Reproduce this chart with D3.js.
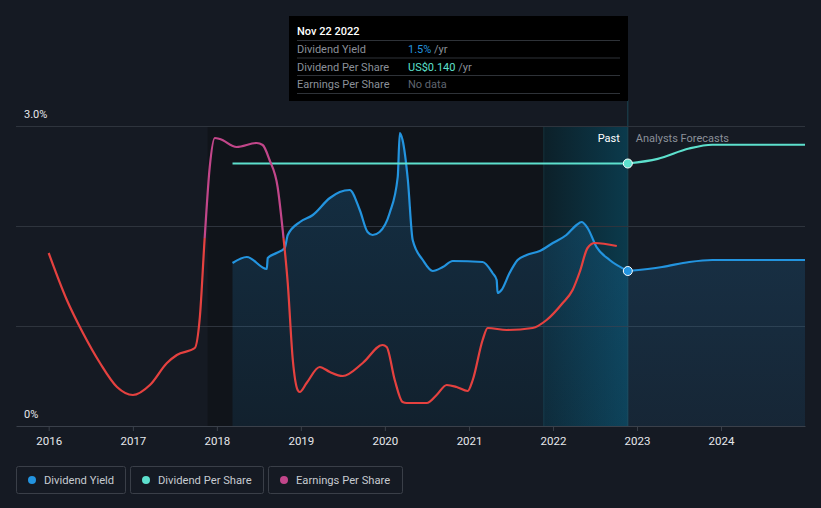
<!DOCTYPE html>
<html>
<head>
<meta charset="utf-8">
<script src="https://cdn.jsdelivr.net/npm/d3@7"></script>
<style>
  html, body { margin: 0; padding: 0; background: #151a23; }
  svg { display: block; font-family: Roboto, "Noto Sans", sans-serif; }
</style>
</head>
<body>
<svg id="chart" width="821" height="508"></svg>
<script>
// ---------------- DATA ----------------
const yieldDates = ["2018-03-10","2018-05-11","2018-08-06","2018-08-10","2018-09-17","2018-10-23","2018-11-05","2018-12-28",
  "2019-02-22","2019-05-07","2019-06-19","2019-08-01","2019-09-14","2019-10-18","2019-11-09","2019-12-09",
  "2020-01-22","2020-02-26","2020-03-06","2020-03-18","2020-04-10","2020-05-01","2020-06-14","2020-07-27","2020-09-09","2020-10-22",
  "2021-03-01","2021-04-13","2021-05-01","2021-05-05","2021-05-22","2021-06-26","2021-07-31","2021-09-08","2021-11-04","2021-12-31",
  "2022-02-28","2022-04-13","2022-05-05","2022-05-31","2022-07-09","2022-09-04","2022-11-22"];
const yieldValues = [1.63,1.69,1.57,1.68,1.73,1.78,1.91,2.04,
  2.11,2.28,2.34,2.36,2.16,1.94,1.91,1.94,
  2.13,2.49,2.93,2.86,2.46,1.86,1.66,1.55,1.59,1.65,
  1.64,1.53,1.46,1.33,1.36,1.53,1.66,1.71,1.75,1.83,
  1.91,2.01,2.04,1.98,1.79,1.66,1.55];
const yieldForecastDates = ["2022-11-22","2023-04-20","2023-08-16","2023-11-24","2024-12-31"];
const yieldForecastValues = [1.55,1.59,1.64,1.66,1.66];

const dpsDates = ["2018-03-10","2022-11-22"];
const dpsValues = [0.14,0.14];
const dpsForecastDates = ["2022-11-22","2023-04-01","2023-08-15","2023-11-24","2024-12-31"];
const dpsForecastValues = [0.14,0.1425,0.148,0.15,0.15];

const epsDates = ["2016-01-01","2016-03-20","2016-05-29","2016-08-11","2016-10-24","2017-01-01","2017-03-16","2017-05-29","2017-07-11","2017-09-27",
  "2017-10-19","2017-11-09","2017-12-01","2017-12-23","2018-01-14","2018-03-28","2018-06-23","2018-07-19","2018-08-18","2018-09-22",
  "2018-10-14","2018-11-05","2018-11-27","2018-12-18","2018-12-27","2019-01-26","2019-03-24","2019-05-07","2019-07-02","2019-09-27",
  "2019-12-22","2020-01-09","2020-02-13","2020-03-18","2020-04-05","2020-07-01","2020-08-13","2020-09-26","2020-11-08","2020-12-26",
  "2021-01-17","2021-03-01","2021-03-23","2021-06-14","2021-10-04","2021-12-04","2022-02-12","2022-03-27","2022-04-27","2022-05-31",
  "2022-07-01","2022-10-05"];
const epsValues = [0.692,0.504,0.372,0.252,0.156,0.124,0.164,0.252,0.284,0.312,
  0.436,0.752,1.036,1.152,1.148,1.116,1.132,1.124,1.064,0.956,
  0.784,0.572,0.264,0.144,0.136,0.172,0.236,0.216,0.200,0.252,
  0.324,0.316,0.184,0.096,0.092,0.092,0.124,0.164,0.156,0.140,
  0.184,0.344,0.392,0.384,0.392,0.424,0.492,0.544,0.616,0.712,
  0.732,0.720];

const xTickYears = [2016,2017,2018,2019,2020,2021,2022,2023,2024];
const yTickLabels = ["0%","3.0%"];
const yTickValues = [0, 3.0];
const gridValues = [1.0, 2.0, 3.0];
const legendLabels = ["Dividend Yield","Dividend Per Share","Earnings Per Share"];
const legendColors = ["#2394df","#5de0cd","#c2468a"];
const tooltipDate = "Nov 22 2022";
const tooltipRows = [
  {label:"Dividend Yield", value:"1.5%", unit:" /yr", color:"#2394df"},
  {label:"Dividend Per Share", value:"US$0.140", unit:" /yr", color:"#5de0cd"},
  {label:"Earnings Per Share", value:"No data", unit:"", color:"#5f6570"}
];
const pastStart = "2017-11-22", highlightStart = "2021-11-22", todayDate = "2022-11-22";

// ---------------- CHART ----------------
(function () {
const parse = d3.timeParse("%Y-%m-%d");
const svg = d3.select("#chart");
const L = 16, R = 805, T = 126, B = 426;

const x = d3.scaleTime().domain([parse("2015-08-12"), parse("2024-12-31")]).range([L, R]);
const y = d3.scaleLinear().domain([0, 3.0]).range([B, T]);
const yDps = d3.scaleLinear().domain([0, 0.16]).range([B, T]);
const yEps = d3.scaleLinear().domain([0, 1.2]).range([B, T]);

const defs = svg.append("defs");

// background regions
svg.append("rect").attr("x", x(parse(pastStart))).attr("y", T)
  .attr("width", x(parse(highlightStart)) - x(parse(pastStart))).attr("height", B - T)
  .attr("fill", "#10141a");

const hg = defs.append("linearGradient").attr("id", "hl").attr("x1", 0).attr("x2", 1).attr("y1", 0).attr("y2", 0);
hg.append("stop").attr("offset", 0).attr("stop-color", "#0c2029");
hg.append("stop").attr("offset", 1).attr("stop-color", "#0b3a4c");
svg.append("rect").attr("x", x(parse(highlightStart))).attr("y", T)
  .attr("width", x(parse(todayDate)) - x(parse(highlightStart))).attr("height", B - T)
  .attr("fill", "url(#hl)");
svg.append("line").attr("x1", x(parse(highlightStart))).attr("x2", x(parse(highlightStart)))
  .attr("y1", T).attr("y2", B).attr("stroke", "#15333d").attr("stroke-width", 1);
svg.append("line").attr("x1", x(parse(todayDate))).attr("x2", x(parse(todayDate)))
  .attr("y1", 100).attr("y2", B).attr("stroke", "#1b4654").attr("stroke-width", 1);

// grid lines
svg.selectAll(".grid").data(gridValues).enter().append("line")
  .attr("x1", L).attr("x2", R)
  .attr("y1", d => Math.round(y(d)) + 0.5).attr("y2", d => Math.round(y(d)) + 0.5)
  .attr("stroke", "#2e343d").attr("stroke-width", 1);

// x axis
const xAxis = d3.axisBottom(x)
  .tickValues(xTickYears.map(yr => new Date(yr, 0, 1)))
  .tickFormat(d3.timeFormat("%Y")).tickSize(5).tickSizeOuter(0);
const gx = svg.append("g").attr("transform", `translate(0,${B})`).call(xAxis);
gx.select(".domain").attr("stroke", "#3a404a");
gx.selectAll(".tick line").attr("stroke", "#3a404a");
gx.selectAll(".tick text").attr("fill", "#e6e8eb").attr("font-size", 11.5).attr("dy", "0.95em")
  .attr("font-family", "Roboto, sans-serif");

// y labels
svg.selectAll(".ylab").data(yTickValues).enter().append("text")
  .attr("x", 24).attr("y", d => y(d) - 8).attr("fill", "#e6e8eb").attr("font-size", 11)
  .text((d, i) => yTickLabels[i]);

// yield area + line
const yd = yieldDates.map((d, i) => ({date: parse(d), v: yieldValues[i]}));
const yfd = yieldForecastDates.map((d, i) => ({date: parse(d), v: yieldForecastValues[i]}));
const ag = defs.append("linearGradient").attr("id", "areaG").attr("x1", 0).attr("x2", 0).attr("y1", 0).attr("y2", 1);
ag.append("stop").attr("offset", 0).attr("stop-color", "#2394df").attr("stop-opacity", 0.22);
ag.append("stop").attr("offset", 1).attr("stop-color", "#2394df").attr("stop-opacity", 0.1);
const area = d3.area().x(d => x(d.date)).y0(B).y1(d => y(d.v)).curve(d3.curveMonotoneX);
svg.append("path").datum(yd.concat(yfd.slice(1))).attr("d", area).attr("fill", "url(#areaG)");
const yLine = d3.line().x(d => x(d.date)).y(d => y(d.v)).curve(d3.curveMonotoneX);
svg.append("path").datum(yd).attr("d", yLine).attr("fill", "none").attr("stroke", "#2394df").attr("stroke-width", 2.2);
svg.append("path").datum(yfd).attr("d", yLine).attr("fill", "none").attr("stroke", "#2394df").attr("stroke-width", 2.2);

// DPS line
const dd = dpsDates.map((d, i) => ({date: parse(d), v: dpsValues[i]}));
const dfd = dpsForecastDates.map((d, i) => ({date: parse(d), v: dpsForecastValues[i]}));
const dLine = d3.line().x(d => x(d.date)).y(d => yDps(d.v)).curve(d3.curveMonotoneX);
svg.append("path").datum(dd).attr("d", dLine).attr("fill", "none").attr("stroke", "#5de0cd").attr("stroke-width", 2.2);
svg.append("path").datum(dfd).attr("d", dLine).attr("fill", "none").attr("stroke", "#5de0cd").attr("stroke-width", 2.2);

// EPS line with threshold colouring
const epsThreshold = 0.752;
const eg = defs.append("linearGradient").attr("id", "epsG").attr("gradientUnits", "userSpaceOnUse")
  .attr("x1", 0).attr("x2", 0).attr("y1", T).attr("y2", B);
const tOff = (yEps(epsThreshold) - T) / (B - T);
eg.append("stop").attr("offset", 0).attr("stop-color", "#c2468a");
eg.append("stop").attr("offset", tOff).attr("stop-color", "#c2468a");
eg.append("stop").attr("offset", tOff).attr("stop-color", "#e5413f");
eg.append("stop").attr("offset", 1).attr("stop-color", "#e5413f");
const ed = epsDates.map((d, i) => ({date: parse(d), v: epsValues[i]}));
const eLine = d3.line().x(d => x(d.date)).y(d => yEps(d.v)).curve(d3.curveMonotoneX);
svg.append("path").datum(ed).attr("d", eLine).attr("fill", "none").attr("stroke", "url(#epsG)").attr("stroke-width", 2.2);

// markers
svg.append("circle").attr("cx", x(parse(todayDate))).attr("cy", y(yieldValues[yieldValues.length - 1])).attr("r", 4.5)
  .attr("fill", "#2394df").attr("stroke", "#ffffff").attr("stroke-width", 1);
svg.append("circle").attr("cx", x(parse(todayDate))).attr("cy", yDps(dpsValues[dpsValues.length - 1])).attr("r", 4.5)
  .attr("fill", "#5de0cd").attr("stroke", "#ffffff").attr("stroke-width", 1);

// Past / Forecast labels
svg.append("text").attr("x", x(parse(todayDate)) - 8).attr("y", 142).attr("text-anchor", "end")
  .attr("fill", "#ffffff").attr("font-size", 11).text("Past");
svg.append("text").attr("x", x(parse(todayDate)) + 8).attr("y", 142)
  .attr("fill", "#8b9099").attr("font-size", 11).text("Analysts Forecasts");

// tooltip
const tt = svg.append("g").attr("transform", "translate(289,16)");
tt.append("rect").attr("width", 339).attr("height", 85).attr("fill", "#000000");
tt.append("text").attr("x", 8).attr("y", 19).attr("fill", "#ffffff").attr("font-size", 11).attr("font-weight", 500).text(tooltipDate);
tooltipRows.forEach((r, i) => {
  const yy = 37 + i * 17.5;
  tt.append("line").attr("x1", 8).attr("x2", 331).attr("y1", yy - 12.5).attr("y2", yy - 12.5).attr("stroke", "#2e3238");
  tt.append("text").attr("x", 8).attr("y", yy).attr("fill", "#8b9099").attr("font-size", 11).text(r.label);
  const t = tt.append("text").attr("x", 119).attr("y", yy).attr("font-size", 11);
  t.append("tspan").attr("fill", r.color).text(r.value);
  if (r.unit) t.append("tspan").attr("fill", "#8b9099").text(r.unit);
});
tt.append("line").attr("x1", 8).attr("x2", 331).attr("y1", 77.5).attr("y2", 77.5).attr("stroke", "#2e3238");

// legend
const legendX = [16, 130, 268];
const legendW = [110, 134, 135];
legendLabels.forEach((lab, i) => {
  const g = svg.append("g").attr("transform", `translate(${legendX[i]},466)`);
  g.append("rect").attr("x", 0.5).attr("y", 0.5).attr("width", legendW[i] - 1).attr("height", 27).attr("rx", 2)
    .attr("fill", "none").attr("stroke", "#3a3f48");
  g.append("circle").attr("cx", 16).attr("cy", 14).attr("r", 4).attr("fill", legendColors[i]);
  g.append("text").attr("x", 28).attr("y", 18).attr("fill", "#c6cad0").attr("font-size", 11.2).text(lab);
});
})();
</script>
</body>
</html>
